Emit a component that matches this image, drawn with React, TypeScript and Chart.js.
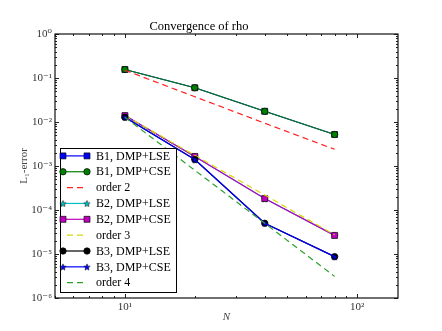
import React, { useEffect, useRef } from 'react';
import { Chart, registerables } from 'chart.js';
import { drawPoint } from 'chart.js/helpers';

Chart.register(...registerables);

// ---- data ----
const N = [10, 20, 40, 80];
const b1LSE = [0.156, 0.06, 0.0175, 0.0052];
const b1CSE = [0.156, 0.06, 0.0175, 0.0052];
const order2 = [0.15, 0.0375, 0.0094, 0.0024];
const b2LSE = [0.014, 0.00165, 0.000182, 0.0000265];
const b2CSE = [0.014, 0.00165, 0.000182, 0.0000265];
const order3 = [0.014, 0.00175, 0.000219, 0.0000273];
const b3LSE = [0.0128, 0.0014, 0.00005, 0.0000087];
const b3CSE = [0.0128, 0.0014, 0.00005, 0.0000087];
const order4 = [0.0128, 0.0008, 0.00005, 0.0000031];

const seriesLabels = [
  'B1, DMP+LSE',
  'B1, DMP+CSE',
  'order 2',
  'B2, DMP+LSE',
  'B2, DMP+CSE',
  'order 3',
  'B3, DMP+LSE',
  'B3, DMP+CSE',
  'order 4',
];
const yTickValues = [1e-6, 1e-5, 1e-4, 1e-3, 1e-2, 1e-1, 1];
const xTickValues = [10, 100];
const titleText = 'Convergence of rho';
const xTitle = 'N';
const yTitle = 'L\u2081-error';

const FONT = "'Liberation Serif', 'DejaVu Serif', serif";

const SUP: Record<string, string> = {
  '0': '\u2070', '1': '\u00b9', '2': '\u00b2', '3': '\u00b3', '4': '\u2074',
  '5': '\u2075', '6': '\u2076', '7': '\u2077', '8': '\u2078', '9': '\u2079', '-': '\u207b',
};
const powLabel = (v: number) => {
  const e = Math.round(Math.log10(v));
  return '10' + String(e).split('').map((c) => SUP[c] || c).join('');
};

function starImage(fill: string, size = 8) {
  const c = document.createElement('canvas');
  c.width = size;
  c.height = size;
  const ctx = c.getContext('2d')!;
  const cx = size / 2, cy = size / 2 + 0.4;
  const R = size / 2 - 0.6, r = R * 0.45;
  ctx.beginPath();
  for (let k = 0; k < 10; k++) {
    const a = -Math.PI / 2 + (k * Math.PI) / 5;
    const rad = k % 2 === 0 ? R : r;
    ctx.lineTo(cx + rad * Math.cos(a), cy + rad * Math.sin(a));
  }
  ctx.closePath();
  ctx.fillStyle = fill;
  ctx.fill();
  ctx.strokeStyle = '#000';
  ctx.lineWidth = 0.5;
  ctx.stroke();
  return c;
}

const pts = (ys: number[]) => N.map((n, i) => ({ x: n, y: ys[i] }));

export default function App() {
  const ref = useRef<HTMLCanvasElement>(null);

  useEffect(() => {
    if (!ref.current) return;
    document.body.style.margin = '0';

    const cyanStar = starImage('#00bfbf');
    const blueStar = starImage('#0000ff');

    const solid = (label: string, data: number[], color: string, style: any, radius: number, fill?: string) => ({
      label,
      data: pts(data),
      borderColor: color,
      backgroundColor: fill || color,
      borderWidth: 1.2,
      pointStyle: style,
      pointRadius: radius,
      pointHoverRadius: radius,
      pointBackgroundColor: fill || color,
      pointBorderColor: '#000',
      pointBorderWidth: 0.7,
      tension: 0,
      fill: false,
      dashed: false,
    });
    const dashed = (label: string, data: number[], color: string) => ({
      label,
      data: pts(data),
      borderColor: color,
      backgroundColor: color,
      borderWidth: 1.2,
      borderDash: [6, 4],
      pointRadius: 0,
      pointHoverRadius: 0,
      tension: 0,
      fill: false,
      dashed: true,
    });

    const datasets: any[] = [
      solid(seriesLabels[0], b1LSE, '#0000ff', 'rect', 4.2),
      solid(seriesLabels[1], b1CSE, '#008000', 'circle', 3.2),
      dashed(seriesLabels[2], order2, '#ff2020'),
      solid(seriesLabels[3], b2LSE, '#00bfbf', cyanStar, 3),
      solid(seriesLabels[4], b2CSE, '#bf00bf', 'rect', 4.2),
      dashed(seriesLabels[5], order3, '#d8d800'),
      solid(seriesLabels[6], b3LSE, '#000000', 'circle', 3.2),
      solid(seriesLabels[7], b3CSE, '#0000ff', blueStar, 3),
      dashed(seriesLabels[8], order4, '#2ca02c'),
    ];
    datasets.forEach((d, i) => (d.order = datasets.length - i));

    const frameTicks = {
      id: 'frameTicks',
      afterDatasetsDraw(chart: any) {
        const { ctx, chartArea: a, scales } = chart;
        const xs = scales.x, ys = scales.y;
        ctx.save();
        ctx.strokeStyle = '#222';
        ctx.lineWidth = 1;
        for (let e = -6; e <= 0; e++) {
          for (let m = 1; m <= 9; m++) {
            const v = m * Math.pow(10, e);
            if (v > 1.0000001) continue;
            const y = Math.round(ys.getPixelForValue(v)) + 0.5;
            const len = m === 1 ? 4 : 2;
            ctx.beginPath();
            ctx.moveTo(a.left, y); ctx.lineTo(a.left + len, y);
            ctx.moveTo(a.right, y); ctx.lineTo(a.right - len, y);
            ctx.stroke();
          }
        }
        for (let e = 0; e <= 2; e++) {
          for (let m = 1; m <= 9; m++) {
            const v = m * Math.pow(10, e);
            if (v < 5 || v > 150) continue;
            const x = Math.round(xs.getPixelForValue(v)) + 0.5;
            const len = m === 1 ? 4 : 2;
            ctx.beginPath();
            ctx.moveTo(x, a.bottom); ctx.lineTo(x, a.bottom - len);
            ctx.moveTo(x, a.top); ctx.lineTo(x, a.top + len);
            ctx.stroke();
          }
        }
        ctx.lineWidth = 1.2;
        ctx.strokeStyle = '#111';
        ctx.strokeRect(a.left, a.top, a.right - a.left, a.bottom - a.top);
        ctx.restore();
      },
    };

    const innerLegend = {
      id: 'innerLegend',
      afterDraw(chart: any) {
        const { ctx, chartArea: a } = chart;
        const ds = chart.data.datasets;
        const left = a.left + 5;
        const bottom = a.bottom - 6;
        const rowH = 15.85;
        const top = bottom - (8 + (ds.length - 1) * rowH + 9.3);
        const width = 116;
        ctx.save();
        ctx.fillStyle = '#fff';
        ctx.fillRect(left, top, width, bottom - top);
        ctx.strokeStyle = '#000';
        ctx.lineWidth = 1;
        ctx.strokeRect(Math.round(left) + 0.5, Math.round(top) + 0.5, width, Math.round(bottom - top));
        ds.forEach((d: any, i: number) => {
          const y = top + 8 + i * rowH;
          const x1 = left + 3, x2 = left + 27;
          ctx.save();
          ctx.strokeStyle = d.borderColor;
          ctx.lineWidth = 1.2;
          if (d.dashed) {
            ctx.setLineDash([6, 4]);
            ctx.beginPath();
            ctx.moveTo(left + 7, y); ctx.lineTo(left + 23, y);
            ctx.stroke();
          } else {
            ctx.beginPath();
            ctx.moveTo(x1, y); ctx.lineTo(x2, y);
            ctx.stroke();
            ctx.fillStyle = d.pointBackgroundColor;
            ctx.strokeStyle = d.pointBorderColor;
            ctx.lineWidth = d.pointBorderWidth;
            const opts = { pointStyle: d.pointStyle, radius: d.pointRadius, borderWidth: d.pointBorderWidth, rotation: 0 };
            drawPoint(ctx, opts as any, x1, y);
            drawPoint(ctx, opts as any, x2, y);
          }
          ctx.restore();
          ctx.fillStyle = '#000';
          ctx.font = `12px ${FONT}`;
          ctx.textBaseline = 'middle';
          ctx.textAlign = 'left';
          ctx.fillText(d.label, left + 36, y + 0.5);
        });
        ctx.restore();
      },
    };

    const chart = new Chart(ref.current, {
      type: 'line',
      data: { datasets },
      options: {
        animation: false,
        responsive: false,
        maintainAspectRatio: false,
        events: [],
        layout: { padding: { left: 0, right: 44, top: 0, bottom: 0 } },
        plugins: {
          legend: { display: false },
          tooltip: { enabled: false },
          title: {
            display: true,
            text: titleText,
            color: '#000',
            font: { family: FONT, size: 12.5, weight: 'normal', lineHeight: 1.2 },
            padding: { top: 19, bottom: 0 },
          },
        },
        scales: {
          x: {
            type: 'logarithmic',
            min: 5,
            max: 150,
            afterBuildTicks: (s: any) => { s.ticks = xTickValues.map((v) => ({ value: v })); },
            afterFit: (s: any) => { s.height = 33; },
            grid: { display: false, drawTicks: false },
            border: { display: false },
            ticks: {
              callback: (v: any) => powLabel(Number(v)),
              color: '#333',
              font: { family: FONT, size: 11 },
              padding: 3,
              maxRotation: 0,
              autoSkip: false,
            },
            title: {
              display: true,
              text: xTitle,
              color: '#444',
              font: { family: FONT, size: 11, style: 'italic', lineHeight: 1.2 },
              padding: { top: 0, bottom: 7.5 },
            },
          },
          y: {
            type: 'logarithmic',
            min: 1e-6,
            max: 1,
            afterBuildTicks: (s: any) => { s.ticks = yTickValues.map((v) => ({ value: v })); },
            afterFit: (s: any) => { s.width = 55; },
            grid: { display: false, drawTicks: false },
            border: { display: false },
            ticks: {
              callback: (v: any) => powLabel(Number(v)),
              color: '#333',
              font: { family: FONT, size: 11 },
              padding: 3,
              autoSkip: false,
            },
            title: {
              display: true,
              text: yTitle,
              color: '#444',
              font: { family: FONT, size: 11, lineHeight: 1.2 },
              padding: { top: 18, bottom: 0 },
            },
          },
        },
      },
      plugins: [frameTicks, innerLegend],
    } as any);

    return () => chart.destroy();
  }, []);

  return (
    <div style={{ position: 'absolute', left: 0, top: 0, width: 442, height: 331, background: '#fff' }}>
      <canvas ref={ref} width={442} height={331} style={{ width: 442, height: 331, display: 'block' }} />
    </div>
  );
}
